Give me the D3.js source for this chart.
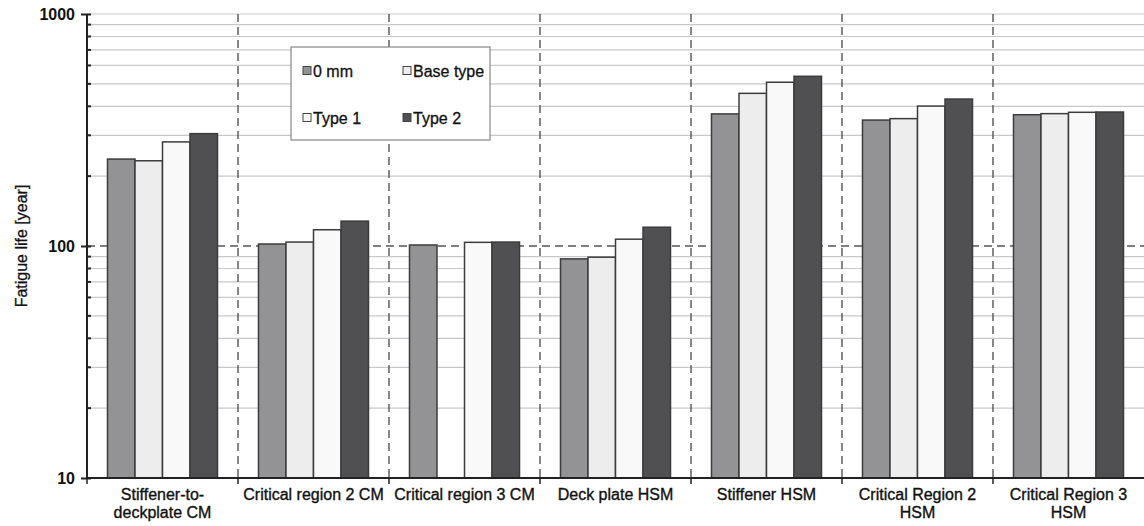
<!DOCTYPE html>
<html><head><meta charset="utf-8">
<script src="https://cdn.jsdelivr.net/npm/d3@7"></script>
<style>body{margin:0;background:#fff}svg{display:block}text{font-family:"Liberation Sans",Arial,sans-serif}</style>
</head><body>
<svg id="c" width="1144" height="526"></svg>
<script>
const categories = [["Stiffener-to-","deckplate CM"],["Critical region 2 CM"],["Critical region 3 CM"],["Deck plate HSM"],["Stiffener HSM"],["Critical Region 2","HSM"],["Critical Region 3","HSM"]];
const series = ["0 mm","Base type","Type 1","Type 2"];
const s0mm     = [237, 102, 101, 88, 371, 349, 368];
const sBase    = [233, 104, null, 89.5, 455, 354, 372];
const sType1   = [281, 117.5, 103.7, 107, 508, 401, 377];
const sType2   = [305, 128, 104, 120.5, 539, 430, 378];
const yMajorTicks = [10, 100, 1000];
const yMinorTicks = [20,30,40,50,60,70,80,90,200,300,400,500,600,700,800,900];
const colors = ["#939396","#ededed","#f9f9f9","#505052"];

const values = [s0mm, sBase, sType1, sType2];
const svg = d3.select("#c");
const L = 87, R = 1144, T = 14, B = 478;
const catIdx = categories.map((d,i)=>i);
const x0 = d3.scaleBand().domain(catIdx).range([L,R]).padding(0);
const x1 = d3.scaleBand().domain(series).range([0,x0.bandwidth()]).paddingInner(0).paddingOuter(0.745);
const y = d3.scaleLog().domain([10,1000]).range([B,T]);

// gridlines
svg.append("g").selectAll("line").data(yMinorTicks.concat([1000])).join("line")
  .attr("x1",L).attr("x2",R).attr("y1",d=>y(d)).attr("y2",d=>y(d))
  .attr("stroke","#c8c8c8").attr("stroke-width",1.2);
svg.append("line").attr("x1",L).attr("x2",R).attr("y1",y(100)).attr("y2",y(100))
  .attr("stroke","#555").attr("stroke-width",1.4).attr("stroke-dasharray","8,5");

// vertical dashed dividers
svg.append("g").selectAll("line").data(catIdx.slice(1)).join("line")
  .attr("x1",d=>x0(d)).attr("x2",d=>x0(d)).attr("y1",T).attr("y2",B)
  .attr("stroke","#555").attr("stroke-width",1.4).attr("stroke-dasharray","8,5");

// bars
const g = svg.append("g");
series.forEach((s,si)=>{
  g.selectAll(null).data(catIdx.filter(i=>values[si][i]!=null)).join("rect")
    .attr("x",i=>x0(i)+x1(s)).attr("width",x1.bandwidth())
    .attr("y",i=>y(values[si][i])).attr("height",i=>B-y(values[si][i]))
    .attr("fill",colors[si]).attr("stroke","#3c3c3c").attr("stroke-width",1.5);
});

// y axis
const yAxis = d3.axisLeft(y).tickValues(yMajorTicks).tickFormat(d3.format("d")).tickSize(6).tickPadding(6);
const ya = svg.append("g").attr("transform",`translate(${L},0)`).call(yAxis);
ya.select(".domain").attr("stroke","#222").attr("stroke-width",2).attr("d",`M0,${T}V${B}`);
ya.selectAll(".tick line").attr("stroke","#222").attr("stroke-width",2).attr("x2",-6).attr("x1",4);
ya.selectAll(".tick text").attr("font-size",16).attr("font-weight","bold").attr("fill","#111").attr("dy","0.36em");
svg.append("g").selectAll("line").data(yMinorTicks).join("line")
  .attr("x1",L).attr("x2",L+4).attr("y1",d=>y(d)).attr("y2",d=>y(d))
  .attr("stroke","#222").attr("stroke-width",2);

// x axis
const xa = svg.append("g").attr("transform",`translate(0,${B})`);
xa.append("line").attr("x1",L-1).attr("x2",R).attr("stroke","#222").attr("stroke-width",2);
xa.selectAll(".xt").data(catIdx).join("line").attr("class","xt")
  .attr("x1",d=>x0(d)).attr("x2",d=>x0(d)).attr("y1",0).attr("y2",6)
  .attr("stroke","#222").attr("stroke-width",1.5);
xa.selectAll(".xl").data(catIdx).join("text").attr("class","xl")
  .attr("text-anchor","middle").attr("font-size",16).attr("fill","#111")
  .attr("stroke","#111").attr("stroke-width",0.35)
  .attr("transform",d=>`translate(${x0(d)+x0.bandwidth()/2},22)`)
  .each(function(d){
    d3.select(this).selectAll("tspan").data(categories[d]).join("tspan")
      .attr("x",0).attr("dy",(t,i)=>i===0?0:18).text(t=>t);
  });

// y title
svg.append("text").attr("transform",`translate(27,${(T+B)/2}) rotate(-90)`)
  .attr("text-anchor","middle").attr("font-size",16).attr("fill","#111")
  .attr("stroke","#111").attr("stroke-width",0.3).text("Fatigue life [year]");

// legend
const lg = svg.append("g").attr("transform","translate(291,47)");
lg.append("rect").attr("width",199).attr("height",93).attr("fill","#fff").attr("stroke","#888").attr("stroke-width",1.2);
const pos = [[12,24],[112,24],[12,71],[112,71]];
series.forEach((s,i)=>{
  const e = lg.append("g").attr("transform",`translate(${pos[i][0]},${pos[i][1]})`);
  e.append("rect").attr("x",0).attr("y",-4.5).attr("width",8).attr("height",8)
    .attr("fill",colors[i]).attr("stroke","#444").attr("stroke-width",1);
  e.append("text").attr("x",10).attr("y",5.5).attr("font-size",16).attr("fill","#111")
    .attr("stroke","#111").attr("stroke-width",0.3).text(s);
});
</script>
</body></html>
